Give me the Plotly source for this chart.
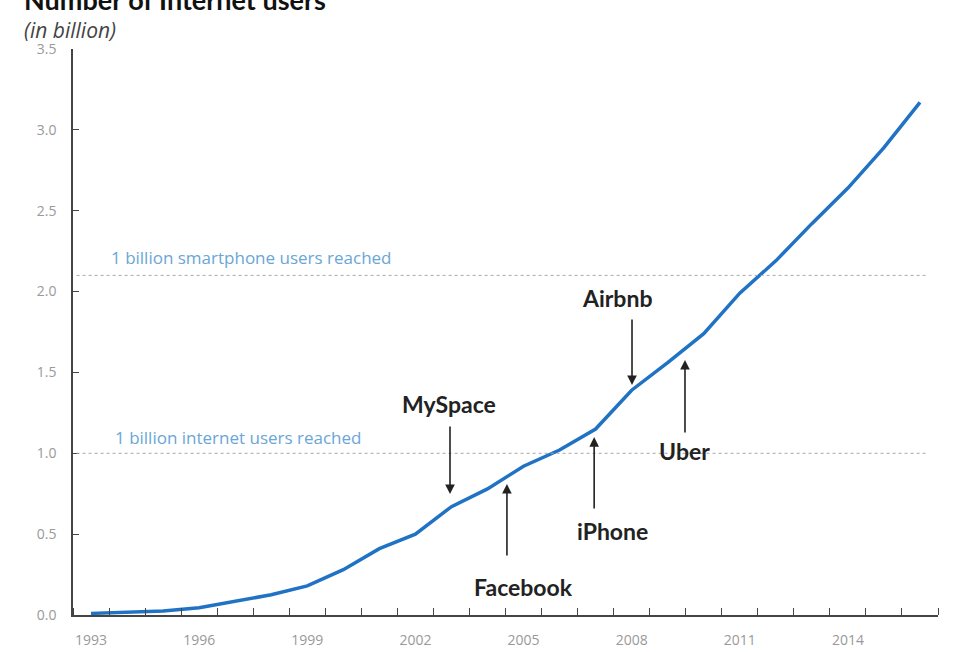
import plotly.graph_objects as go

years = list(range(1993, 2017))
users_bn = [0.01, 0.02, 0.025, 0.045, 0.085, 0.125, 0.18, 0.28, 0.41, 0.50,
            0.67, 0.78, 0.92, 1.02, 1.15, 1.39, 1.56, 1.74, 1.99, 2.19,
            2.42, 2.64, 2.89, 3.17]
x_label_years = [1993, 1996, 1999, 2002, 2005, 2008, 2011, 2014]
y_ticks = [0.0, 0.5, 1.0, 1.5, 2.0, 2.5, 3.0, 3.5]

milestones = [
    # name, arrow x, arrow tail y, arrow head y, text x, text y
    ("MySpace", 2002.96, 1.175, 0.748, 2002.93, 1.305),
    ("Facebook", 2004.54, 0.359, 0.81, 2004.99, 0.173),
    ("iPhone", 2006.96, 0.649, 1.10, 2007.46, 0.52),
    ("Airbnb", 2008.01, 1.837, 1.422, 2007.59, 1.96),
    ("Uber", 2009.48, 1.119, 1.577, 2009.48, 1.014),
]
ref_lines = [("1 billion smartphone users reached", 2.1, 1993.5, 2.21),
             ("1 billion internet users reached", 1.0, 1993.61, 1.095)]

fig = go.Figure()
fig.add_trace(go.Scatter(x=years, y=users_bn, mode="lines",
                         line=dict(color="#1f72c4", width=3.5), showlegend=False))

for label, yv, tx, ty in ref_lines:
    fig.add_shape(type="line", xref="x", yref="y", x0=1992.6, x1=2016.22, y0=yv, y1=yv,
                  line=dict(color="#a8a8a8", width=1, dash="dot"))
    fig.add_annotation(x=tx, y=ty, xref="x", yref="y", text=label, showarrow=False,
                       xanchor="left", yanchor="middle",
                       font=dict(family="Open Sans", size=17, color="#6aa6d6"))

for name, axx, tail, head, tx, ty in milestones:
    fig.add_annotation(x=axx, y=head, ax=axx, ay=tail, xref="x", yref="y",
                       axref="x", ayref="y", text="", showarrow=True,
                       arrowhead=2, arrowsize=1.2, arrowwidth=1.6, arrowcolor="#222")
    fig.add_annotation(x=tx, y=ty, xref="x", yref="y", text="<b>%s</b>" % name,
                       showarrow=False, xanchor="center", yanchor="middle",
                       font=dict(family="Lato", size=23, color="#222"))

fig.add_annotation(x=-0.059, y=1.088, xref="paper", yref="paper",
                   text="<b>Number of Internet users</b>", showarrow=False,
                   xanchor="left", yanchor="middle",
                   font=dict(family="Lato", size=27, color="#111"))
fig.add_annotation(x=-0.059, y=1.034, xref="paper", yref="paper",
                   text="<i>(in billion)</i>", showarrow=False,
                   xanchor="left", yanchor="middle",
                   font=dict(family="Open Sans", size=21, color="#444"))

fig.update_layout(
    width=976, height=652,
    margin=dict(l=73, r=38, t=49, b=37),
    paper_bgcolor="white", plot_bgcolor="white",
    xaxis=dict(range=[1992.5, 2016.5], tickmode="array", tickvals=x_label_years,
               ticktext=[str(v) for v in x_label_years], ticks="",
               ticklabelstandoff=11, automargin=False,
               showgrid=False, zeroline=False, showline=True,
               linecolor="#444", linewidth=1.5,
               tickfont=dict(family="Open Sans", size=14, color="#999"),
               minor=dict(ticks="inside", tick0=1992.5, dtick=1, ticklen=7,
                          tickcolor="#444", tickwidth=1.2, showgrid=False)),
    yaxis=dict(range=[0, 3.5], tickmode="array", tickvals=y_ticks,
               ticktext=["%.1f" % v for v in y_ticks], ticks="inside", ticklen=6,
               tickcolor="#444", tickwidth=1.2, ticklabelstandoff=12,
               automargin=False,
               showgrid=False, zeroline=False, showline=True,
               linecolor="#444", linewidth=1.5,
               tickfont=dict(family="Open Sans", size=14, color="#999")),
)

fig.write_html("out.html", config={"displayModeBar": False},
               post_script="document.body.style.margin='0';")
